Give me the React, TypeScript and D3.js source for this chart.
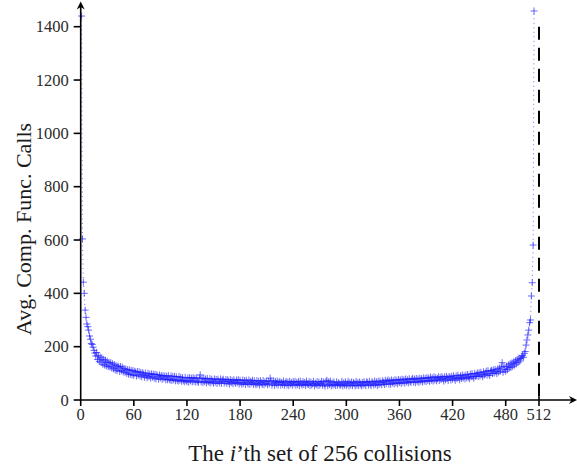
import React from 'react';
import * as d3 from 'd3';

// Average comparison-function calls for each of the 512 sets of 256 collisions (x = 1..512)
const avgCalls: number[] = [
  1440, 604, 442, 400, 337, 310, 285, 275, 262, 240, 228, 212, 208, 198, 186, 176,
  165, 178, 152, 166, 145, 161, 140, 158, 134, 152, 131, 149, 128, 145, 125, 141,
  124, 140, 120, 136, 117, 133, 113, 129, 110, 127, 124, 107, 126, 110, 123, 105,
  118, 104, 116, 100, 114, 97, 113, 96, 111, 94, 110, 92, 108, 104, 90, 107,
  94, 106, 90, 103, 87, 102, 97, 85, 101, 92, 83, 100, 88, 97, 82, 98,
  86, 97, 82, 96, 79, 95, 89, 78, 94, 83, 92, 77, 91, 82, 90, 76,
  89, 76, 92, 78, 75, 90, 73, 88, 76, 89, 72, 87, 75, 71, 88, 74,
  85, 70, 84, 74, 68, 85, 73, 69, 83, 67, 84, 72, 82, 68, 84, 70,
  81, 67, 83, 71, 66, 82, 94, 68, 80, 65, 82, 69, 79, 64, 81, 70,
  66, 80, 64, 78, 71, 63, 79, 67, 77, 62, 78, 70, 64, 79, 63, 74,
  78, 63, 69, 77, 62, 76, 70, 60, 77, 65, 73, 61, 76, 68, 62, 75,
  66, 76, 60, 74, 65, 59, 75, 63, 72, 58, 74, 66, 60, 75, 59, 70,
  64, 74, 58, 72, 63, 57, 73, 61, 70, 56, 72, 65, 58, 73, 57, 68,
  62, 72, 57, 70, 60, 82, 71, 56, 64, 72, 55, 69, 60, 71, 56, 66,
  70, 56, 66, 59, 71, 55, 63, 70, 56, 67, 54, 70, 60, 65, 55, 69,
  60, 70, 55, 66, 58, 69, 54, 71, 61, 56, 69, 58, 66, 54, 71, 61,
  58, 69, 54, 67, 56, 62, 70, 53, 63, 58, 69, 54, 67, 56, 62, 70,
  55, 68, 59, 52, 70, 74, 54, 68, 58, 71, 53, 64, 56, 68, 59, 54,
  68, 56, 65, 60, 54, 59, 70, 53, 64, 56, 68, 54, 60, 70, 53, 65,
  56, 68, 54, 66, 61, 53, 70, 56, 65, 54, 68, 60, 53, 66, 56, 69,
  60, 54, 69, 65, 56, 70, 60, 54, 69, 64, 56, 71, 59, 68, 54, 70,
  58, 71, 64, 57, 72, 66, 58, 74, 61, 70, 75, 60, 72, 59, 75, 64,
  72, 61, 76, 64, 74, 61, 77, 66, 75, 62, 78, 67, 76, 63, 79, 68,
  76, 64, 80, 69, 66, 77, 82, 67, 78, 65, 81, 70, 79, 66, 82, 71,
  80, 68, 83, 71, 81, 69, 84, 73, 82, 70, 86, 74, 83, 71, 87, 75,
  84, 72, 80, 87, 73, 85, 77, 88, 81, 71, 87, 76, 89, 82, 73, 88,
  85, 75, 89, 78, 91, 82, 74, 90, 80, 93, 84, 76, 91, 81, 94, 83,
  90, 79, 94, 83, 96, 86, 80, 97, 87, 99, 88, 82, 100, 89, 94, 101,
  88, 102, 90, 104, 95, 87, 106, 94, 100, 108, 93, 110, 98, 92, 108, 111,
  99, 113, 101, 115, 106, 99, 117, 105, 120, 108, 124, 140, 104, 126, 114, 108,
  127, 114, 132, 120, 136, 122, 139, 126, 143, 131, 147, 135, 152, 140, 157, 146,
  155, 162, 167, 160, 175, 182, 206, 225, 244, 262, 290, 300, 390, 440, 581, 1459,
];

const xTickValues = [0, 60, 120, 180, 240, 300, 360, 420, 480];
const yTickValues = [0, 200, 400, 600, 800, 1000, 1200, 1400];
const boundaryLabel = '512';
const boundaryValue = 517.6; // where the dashed boundary / "512" tick sits on the axis
const boundaryTop = 1400;
const xTitle = ['The ', 'i', '’th set of 256 collisions'];
const yTitle = 'Avg. Comp. Func. Calls';

const W = 577;
const H = 468;
const FONT = '"Liberation Serif", "Times New Roman", serif';

export default function App() {
  const x = d3.scaleLinear().domain([0, 480]).range([80.7, 505.7]);
  const y = d3.scaleLinear().domain([0, 1400]).range([400, 26.7]);
  const x0 = x(0);
  const y0 = y(0);

  const pts: [number, number][] = avgCalls.map((v, i) => [x(i + 1), y(v)]);
  const lineD = d3.line()(pts) || '';
  const r = 3.5;
  const markD = pts
    .map(([px, py]) => `M${px - r},${py}H${px + r}M${px},${py - r}V${py + r}`)
    .join('');

  const bx = x(boundaryValue);

  return (
    <svg
      width={W}
      height={H}
      viewBox={`0 0 ${W} ${H}`}
      style={{ position: 'absolute', left: 0, top: 0, background: '#fff' }}
    >
      <rect width={W} height={H} fill="#fff" />
      {/* data: dotted connecting line + plus markers */}
      <path d={lineD} fill="none" stroke="#2020ff" strokeWidth={0.8} strokeDasharray="1,3.5" strokeOpacity={0.8} />
      <path d={markD} fill="none" stroke="#1a1aff" strokeWidth={0.9} strokeOpacity={0.72} />

      {/* boundary dashed line */}
      <line x1={bx} x2={bx} y1={y(boundaryTop)} y2={y0} stroke="#000" strokeWidth={2} strokeDasharray="13,8" />

      {/* axes */}
      <line x1={x0} x2={574} y1={y0} y2={y0} stroke="#000" strokeWidth={1.6} />
      <path d={`M577,${y0} L569,${y0 - 4} L571.5,${y0} L569,${y0 + 4} Z`} fill="#000" />
      <line x1={x0} x2={x0} y1={y0 + 0.8} y2={5} stroke="#000" strokeWidth={1.6} />
      <path d={`M${x0},1.5 L${x0 - 4},9.5 L${x0},7 L${x0 + 4},9.5 Z`} fill="#000" />

      {/* y ticks */}
      {yTickValues.map((v) => (
        <g key={'y' + v}>
          <line x1={x0 - 7} x2={x0} y1={y(v)} y2={y(v)} stroke="#000" strokeWidth={1.6} />
          <text x={x0 - 12} y={y(v)} dy="0.35em" textAnchor="end" fontFamily={FONT} fontSize={16.5} fill="#2a2a2a">
            {v}
          </text>
        </g>
      ))}

      {/* x ticks */}
      {xTickValues.map((v) => (
        <g key={'x' + v}>
          <line x1={x(v)} x2={x(v)} y1={y0} y2={y0 + 6} stroke="#000" strokeWidth={1.6} />
          <text x={x(v)} y={y0 + 20} textAnchor="middle" fontFamily={FONT} fontSize={16.5} fill="#2a2a2a">
            {v}
          </text>
        </g>
      ))}
      <line x1={bx} x2={bx} y1={y0 - 3} y2={y0 + 6} stroke="#000" strokeWidth={1.6} />
      <text x={bx} y={y0 + 20} textAnchor="middle" fontFamily={FONT} fontSize={16.5} fill="#2a2a2a">
        {boundaryLabel}
      </text>

      {/* titles */}
      <text x={320} y={461} textAnchor="middle" fontFamily={FONT} fontSize={23} fill="#1a1a1a">
        {xTitle[0]}
        <tspan fontStyle="italic">{xTitle[1]}</tspan>
        {xTitle[2]}
      </text>
      <text
        transform={`translate(31,229) rotate(-90)`}
        textAnchor="middle"
        fontFamily={FONT}
        fontSize={22}
        fill="#1a1a1a"
      >
        {yTitle}
      </text>
    </svg>
  );
}
